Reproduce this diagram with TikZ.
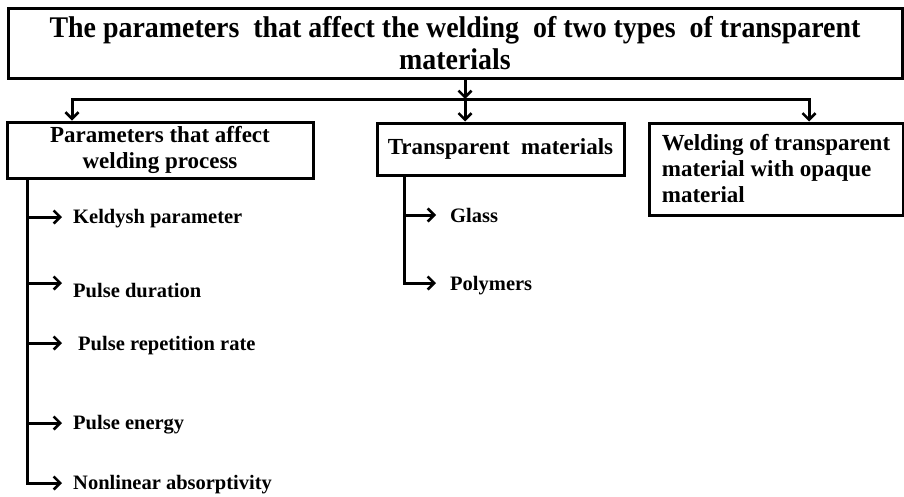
\documentclass[tikz,border=0pt]{standalone}
\usepackage{fontspec}
\setmainfont{Liberation Serif}
\newfontfamily\titlefont[FakeStretch=0.93]{Liberation Serif}
\usetikzlibrary{arrows.meta}
\begin{document}
\begin{tikzpicture}[x=1pt,y=-1pt,
  box/.style={draw, line width=3pt, inner sep=0pt, font=\bfseries\fontsize{23}{26}\selectfont},
  conn/.style={line width=3pt, line cap=rect},
  arr/.style={line width=3pt, -{Straight Barb[length=6.5pt,width=13pt,line width=2.6pt]}},
  item/.style={anchor=base west, inner sep=0pt, font=\bfseries\fontsize{20.5}{24}\selectfont}]
\useasboundingbox (0,0) rectangle (904,496);
% boxes
\node[box, minimum width=894pt, minimum height=70pt, align=center,
      font=\titlefont\bfseries\fontsize{30}{32}\selectfont] (title) at (455,43)
  {The parameters~ that affect the welding~ of two types~ of transparent\\materials};
\node[box, minimum width=306pt, minimum height=56pt, align=center] (b1) at (160,150)
  {Parameters that affect\\welding process};
\node[box, minimum width=247pt, minimum height=52pt] (b2) at (500.5,149)
  {Transparent~ materials};
\node[box, minimum width=254pt, minimum height=92pt, align=left] (b3) at (776,169)
  {Welding of transparent\\material with opaque\\material};
% top connectors
\coordinate (jl) at (72,99);
\coordinate (jc) at (465,99);
\coordinate (jr) at (809,99);
\draw[arr] (title.south -| jc) -- (jc);
\draw[conn] (jl) -- (jr);
\draw[arr] (jl) -- (jl |- b1.north);
\draw[arr] (jc) -- (jc |- b2.north);
\draw[arr] (jr) -- (jr |- b3.north);
% left items
\node[item] (i1) at (73,223) {Keldysh parameter};
\node[item] (i2) at (73,297) {Pulse duration};
\node[item] (i3) at (78,350) {Pulse repetition rate};
\node[item] (i4) at (73,429) {Pulse energy};
\node[item] (i5) at (73,489) {Nonlinear absorptivity};
\coordinate (sl) at (27,0);
\coordinate (a1) at (62,217);
\coordinate (a2) at (62,283);
\coordinate (a3) at (62,343);
\coordinate (a4) at (62,423);
\coordinate (a5) at (62,483);
\draw[arr] (sl |- b1.south) -- (sl |- a5) -- (a5);
\foreach \a in {a1,a2,a3,a4} \draw[arr] (sl |- \a) -- (\a);
% middle items
\node[item] (g1) at (450,222) {Glass};
\node[item] (g2) at (450,290) {Polymers};
\coordinate (sm) at (404,0);
\coordinate (c1) at (436,215);
\coordinate (c2) at (436,283);
\draw[arr] (sm |- b2.south) -- (sm |- c2) -- (c2);
\draw[arr] (sm |- c1) -- (c1);
\end{tikzpicture}
\end{document}
